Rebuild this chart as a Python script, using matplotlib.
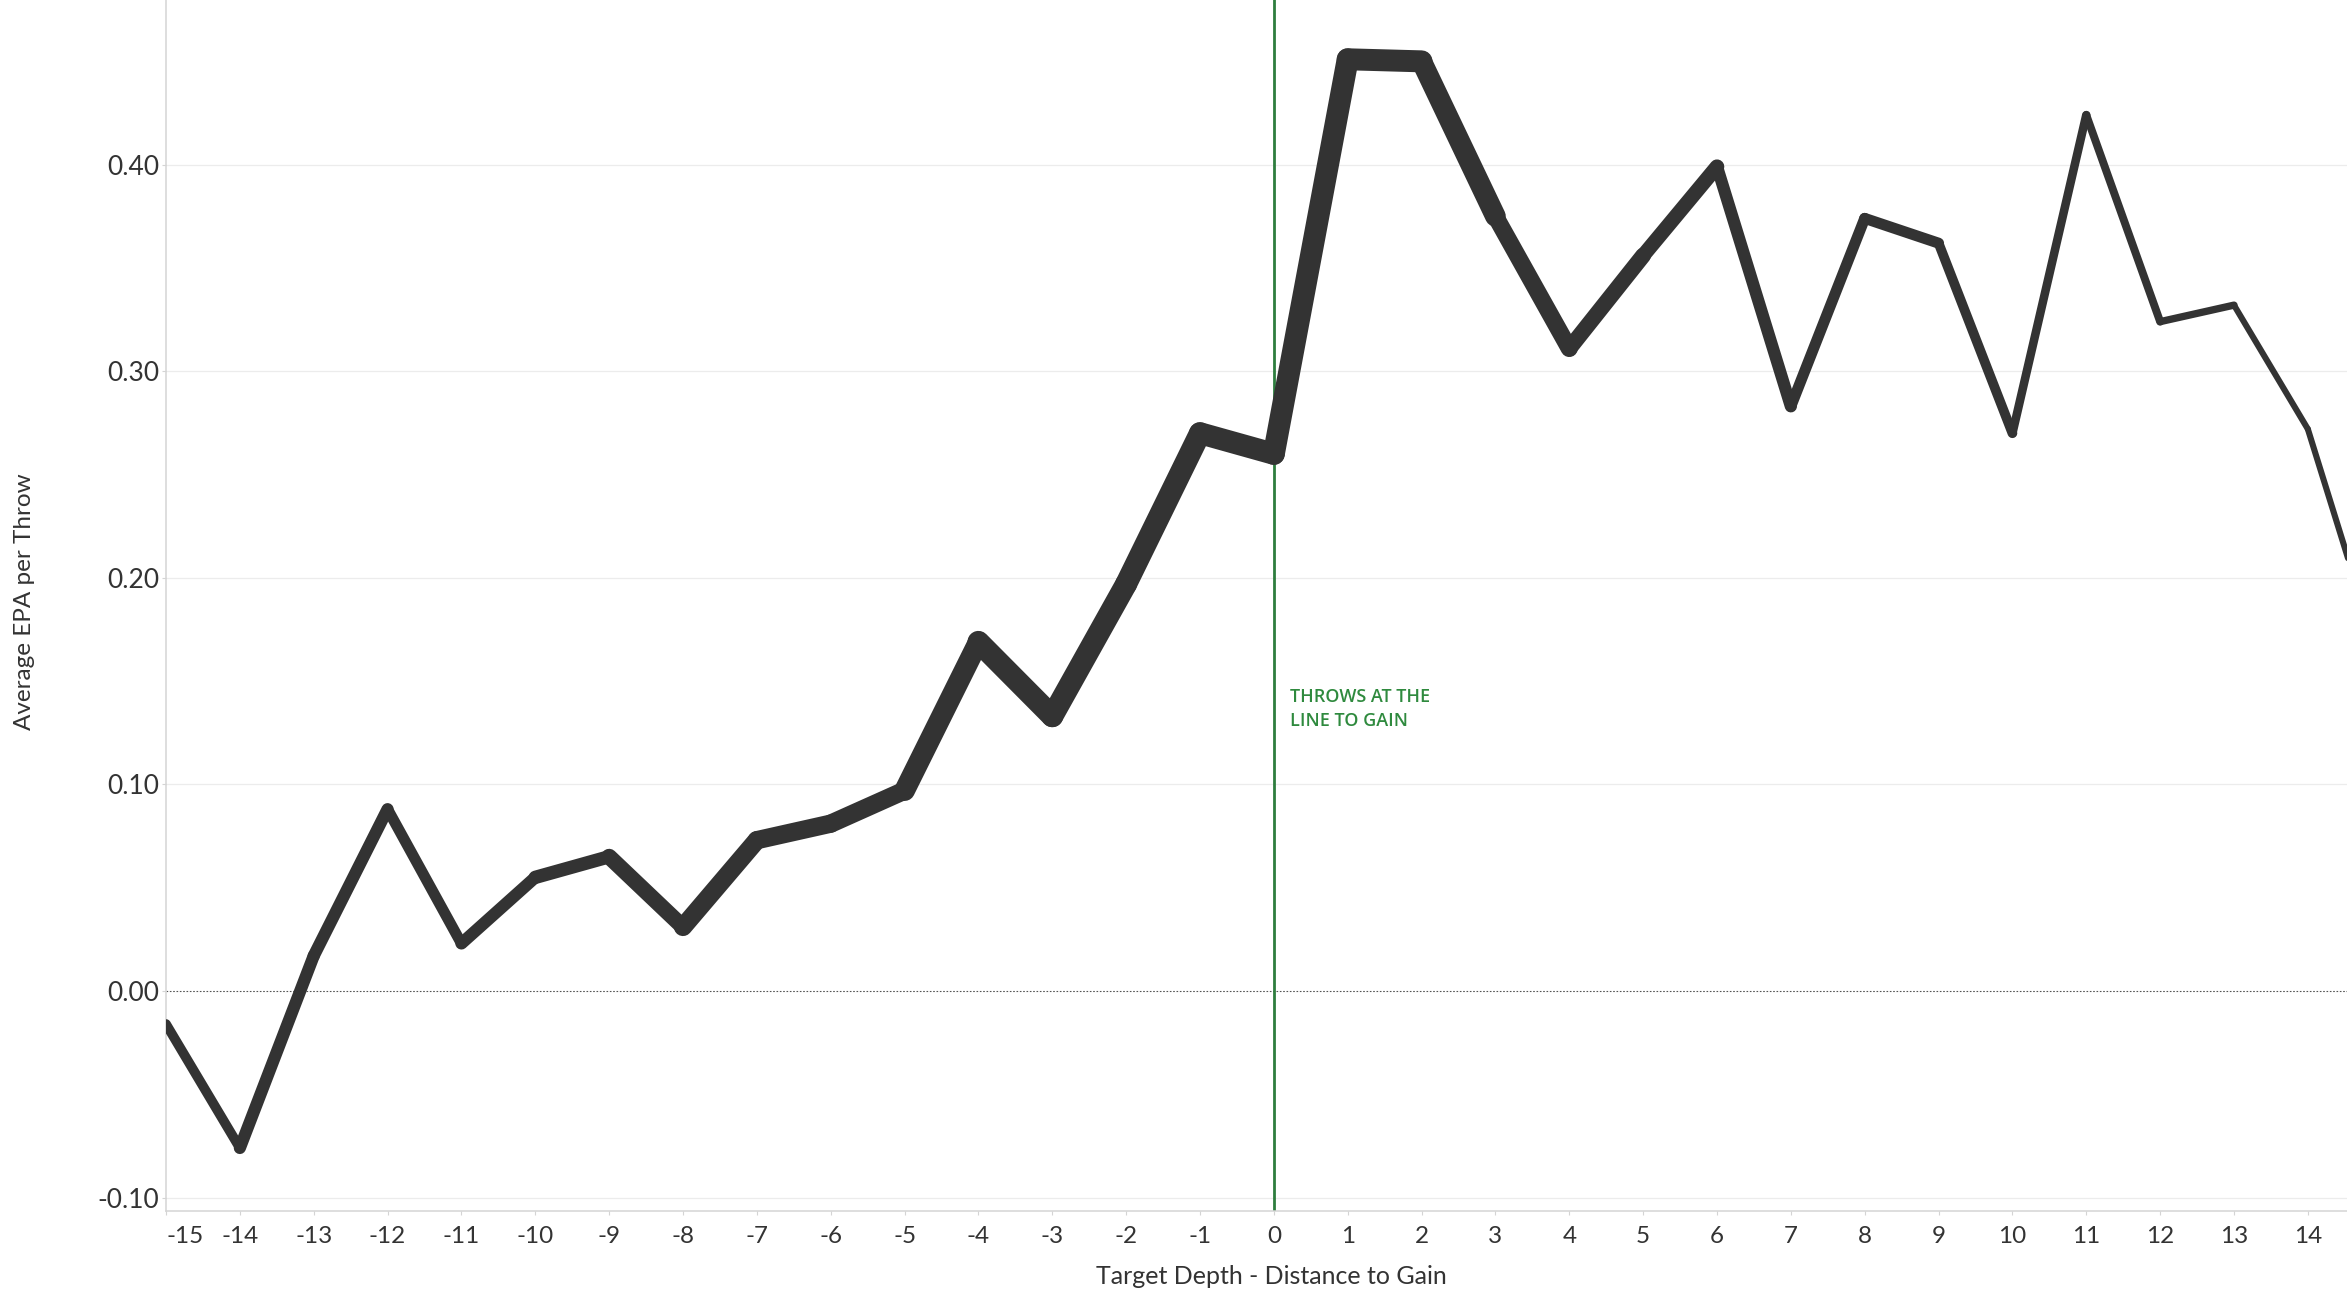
import matplotlib
matplotlib.use("Agg")
import matplotlib.pyplot as plt
import numpy as np
from matplotlib.collections import LineCollection

# target depth minus distance to gain (yards)
depth = [-15, -14, -13, -12, -11, -10, -9, -8, -7, -6, -5, -4, -3, -2, -1,
         0, 1, 2, 3, 4, 5, 6, 7, 8, 9, 10, 11, 12, 13, 14, 15]

# average EPA per throw at each depth
epa = [-0.016, -0.076, 0.017, 0.088, 0.023, 0.055, 0.065, 0.031, 0.073, 0.081,
       0.097, 0.169, 0.133, 0.197, 0.270, 0.260, 0.451, 0.450, 0.375, 0.311,
       0.356, 0.399, 0.283, 0.374, 0.362, 0.270, 0.424, 0.324, 0.332, 0.272,
       0.157]

# relative throw volume for each segment (drives line thickness)
throw_volume = [8, 10, 10, 9, 10, 11, 13, 15, 15, 15, 17, 18, 18, 18, 18,
                18, 18, 17, 14, 13, 12, 10, 9, 9, 8, 7, 6.5, 6, 5, 5]

y_ticks = [-0.10, 0.00, 0.10, 0.20, 0.30, 0.40]

LINE_COLOR = "#333333"
GREEN = "#2e7d3e"
TEXT_COLOR = "#333333"
FONT = ["Lato", "DejaVu Sans"]

plt.rcParams["axes.unicode_minus"] = False

W, H = 2347, 1294
fig = plt.figure(figsize=(W / 100, H / 100), dpi=100)
ax = fig.add_axes([166 / W, 1 - 1211 / H, 1 - 166 / W, 1211 / H])

ax.set_xlim(-15, 14.53)
ax.set_ylim(-0.1065, 0.4797)

# gridlines and zero line
for yv in y_ticks:
    if yv == 0:
        ax.axhline(yv, color="#555555", lw=0.8, ls=(0, (1.5, 1.5)), zorder=1)
    else:
        ax.axhline(yv, color="#ececec", lw=0.9, zorder=0)

# line to gain marker
ax.axvline(0, color=GREEN, lw=2.0, zorder=2)
ax.text(0.22, 0.1465, "THROWS AT THE\nLINE TO GAIN", color="#2f8a3e",
        fontsize=13, fontweight="semibold", family=["Open Sans", "DejaVu Sans"],
        ha="left", va="top", linespacing=1.42, zorder=3)

# variable-width line: one segment per pair of depths
pts = np.column_stack([depth, epa])
segments = np.stack([pts[:-1], pts[1:]], axis=1)
widths = np.array(throw_volume) * 0.72 * 1.22
lc = LineCollection(segments, linewidths=widths, colors=LINE_COLOR,
                    capstyle="round", joinstyle="round", zorder=4)
ax.add_collection(lc)

# axes styling
for side in ["top", "right"]:
    ax.spines[side].set_visible(False)
for side in ["left", "bottom"]:
    ax.spines[side].set_color("#d4d4d4")
    ax.spines[side].set_linewidth(1.1)

ax.set_xticks(list(range(-15, 15)))
ax.set_yticks(y_ticks)
ax.set_yticklabels([f"{v:.2f}" for v in y_ticks])
ax.tick_params(axis="x", length=3, width=0.8, color="#d4d4d4", pad=8,
               labelsize=17.5, labelcolor=TEXT_COLOR)
ax.tick_params(axis="y", length=3, width=0.8, color="#d4d4d4", pad=2,
               labelsize=19, labelcolor=TEXT_COLOR)
for lab in ax.get_xticklabels() + ax.get_yticklabels():
    lab.set_family(FONT)
ax.get_xticklabels()[0].set_horizontalalignment("left")

ax.set_xlabel("Target Depth - Distance to Gain", fontsize=18, color=TEXT_COLOR,
              family=FONT)
ax.xaxis.set_label_coords(0.507, -0.045)
ax.set_ylabel("Average EPA per Throw", fontsize=17.5, color=TEXT_COLOR, family=FONT)
ax.yaxis.set_label_coords(-0.060, 0.503)

fig.savefig("out.png", dpi=100)
